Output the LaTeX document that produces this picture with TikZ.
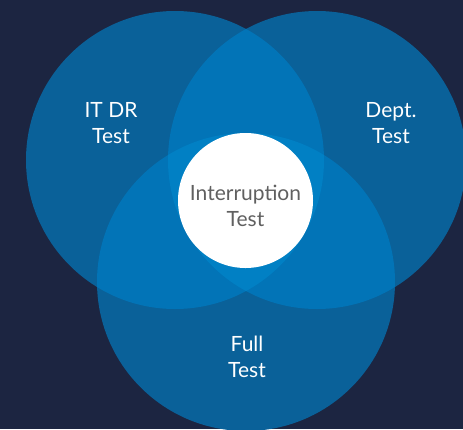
\documentclass[tikz,border=0pt]{standalone}
\usepackage{fontspec}
\setmainfont{Lato}
\definecolor{bgc}{HTML}{1C2541}
\definecolor{onec}{HTML}{0A6199}
\definecolor{twoc}{HTML}{0274B7}
\definecolor{threec}{HTML}{0180C4}
\definecolor{txtgray}{HTML}{606060}
\tikzset{
  lbl/.style={text=white, align=center, font=\fontsize{21}{25.5}\selectfont},
  centerlbl/.style={text=txtgray, align=center, font=\fontsize{21}{25.5}\selectfont},
}
\begin{document}
\begin{tikzpicture}[x=1pt,y=-1pt]
\fill[bgc] (0,0) rectangle (463,429);
\useasboundingbox (0,0) rectangle (463,429);
\def\R{149}
\coordinate (cA) at (175,160);
\coordinate (cB) at (317,160);
\coordinate (cC) at (246,282);
% single regions
\fill[onec] (cA) circle (\R);
\fill[onec] (cB) circle (\R);
\fill[onec] (cC) circle (\R);
% pairwise overlaps
\begin{scope}
  \clip (cA) circle (\R);
  \fill[twoc] (cB) circle (\R);
  \fill[twoc] (cC) circle (\R);
\end{scope}
\begin{scope}
  \clip (cB) circle (\R);
  \fill[twoc] (cC) circle (\R);
\end{scope}
% triple overlap
\begin{scope}
  \clip (cA) circle (\R);
  \clip (cB) circle (\R);
  \fill[threec] (cC) circle (\R);
\end{scope}
% center white circle
\node[circle, fill=white, minimum size=135pt, inner sep=0pt] (mid) at (245.5,200.5) {};
\node[centerlbl] (midtxt) at (245.5,206) {Interruption\\Test};
\node[lbl] (itdr) at (111,123) {IT DR\\Test};
\node[lbl] (dept) at (391,123) {Dept.\\Test};
\node[lbl] (full) at (247,357) {Full\\Test};
\end{tikzpicture}
\end{document}
